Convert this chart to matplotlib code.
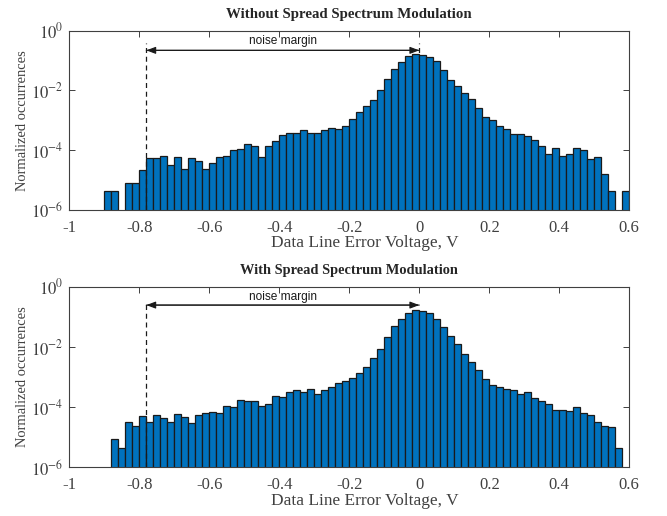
import numpy as np
import matplotlib
matplotlib.use("Agg")
import matplotlib.pyplot as plt

plt.rcParams["font.family"] = ["Liberation Serif", "DejaVu Serif"]
plt.rcParams["mathtext.fontset"] = "stix"

# Histogram bins: 0.02 V wide, from -1 V to 0.6 V
bin_width = 0.02
bin_left = -1.0
n_bins = 80

without_ssm = [
    0, 0, 0, 0, 0, 4.3e-6, 4.3e-6, 0, 7.9e-6, 7.9e-6,
    2.1e-5, 5.4e-5, 5.4e-5, 6.6e-5, 3.2e-5, 5.8e-5, 2.3e-5, 5.4e-5, 4.3e-5, 2.3e-5,
    3.6e-5, 5.8e-5, 6.6e-5, 1.0e-4, 1.1e-4, 1.6e-4, 1.4e-4, 5.8e-5, 1.4e-4, 2.1e-4,
    3.2e-4, 3.7e-4, 3.7e-4, 4.7e-4, 3.7e-4, 3.7e-4, 4.7e-4, 5.4e-4, 5.1e-4, 6.6e-4,
    1.1e-3, 1.9e-3, 3.0e-3, 4.7e-3, 1.05e-2, 2.45e-2, 5.1e-2, 8.9e-2, 0.141, 0.162,
    0.155, 0.132, 0.100, 0.047, 0.023, 0.0138, 0.0085, 0.0050, 0.0026, 0.00132,
    0.00102, 6.6e-4, 5.0e-4, 3.4e-4, 3.4e-4, 3.1e-4, 2.2e-4, 1.4e-4, 7.4e-5, 1.15e-4,
    6.5e-5, 7.4e-5, 1.15e-4, 1.0e-4, 5.0e-5, 6.0e-5, 1.6e-5, 4.1e-6, 0, 4.1e-6,
]

with_ssm = [
    0, 0, 0, 0, 0, 0, 8.5e-6, 4.3e-6, 3.3e-5, 2.4e-5,
    4.9e-5, 3.2e-5, 5.4e-5, 4.3e-5, 3.2e-5, 5.8e-5, 4.7e-5, 3.0e-5, 5.4e-5, 6.2e-5,
    6.8e-5, 6.2e-5, 1.1e-4, 1.0e-4, 1.7e-4, 1.55e-4, 1.55e-4, 1.1e-4, 1.26e-4, 2.4e-4,
    2.2e-4, 3.2e-4, 3.8e-4, 3.2e-4, 4.0e-4, 2.8e-4, 3.7e-4, 4.7e-4, 6.2e-4, 7.2e-4,
    9.5e-4, 1.32e-3, 2.1e-3, 4.3e-3, 8.7e-3, 2.1e-2, 4.8e-2, 8.7e-2, 0.135, 0.166,
    0.151, 0.132, 0.087, 0.045, 0.0234, 0.0126, 0.0059, 0.0032, 0.00174, 8.5e-4,
    5.5e-4, 4.8e-4, 4.0e-4, 3.6e-4, 2.75e-4, 3.1e-4, 1.95e-4, 1.6e-4, 1.23e-4, 8.1e-5,
    8.1e-5, 7.4e-5, 1.0e-4, 6.5e-5, 5.4e-5, 3.1e-5, 2.4e-5, 2.1e-5, 4.3e-6, 0,
]

titles = ["Without Spread Spectrum Modulation", "With Spread Spectrum Modulation"]
x_ticks = [-1, -0.8, -0.6, -0.4, -0.2, 0, 0.2, 0.4, 0.6]
x_tick_labels = ["-1", "-0.8", "-0.6", "-0.4", "-0.2", "0", "0.2", "0.4", "0.6"]
y_ticks = [1e-6, 1e-4, 1e-2, 1e0]
y_tick_labels = [r"$10^{-6}$", r"$10^{-4}$", r"$10^{-2}$", r"$10^{0}$"]

margin_left = -0.78
margin_right = 0.0

bar_color = "#0072BD"
axis_color = "#404040"

fig = plt.figure(figsize=(6.67, 5.16), dpi=100)
ax_rects = [
    [69.3 / 667, 1 - 210.0 / 516, 560 / 667, 179.3 / 516],
    [69.3 / 667, 1 - 467.3 / 516, 560 / 667, 180.6 / 516],
]
# annotation heights (arrow, text baseline, top of dashed lines) for each panel
arrow_y = [0.22, 0.245]
text_y = [0.36, 0.36]
dash_top = [0.40, 0.32]
right_dash = [True, False]

edges = bin_left + bin_width * np.arange(n_bins)


def fit_size(artist, target, use_height=False):
    """Rescale an artist's font so its rendered extent reaches target pixels."""
    renderer = fig.canvas.get_renderer()
    for _ in range(3):
        bb = artist.get_window_extent(renderer)
        cur = bb.height if use_height else bb.width
        if cur > 0:
            artist.set_fontsize(artist.get_fontsize() * target / cur)


arrow_kw = dict(arrowstyle="-|>,head_length=0.8,head_width=0.3",
                color="#1a1a1a", lw=0.8, mutation_scale=7, shrinkA=0, shrinkB=0)

axes = []
title_artists = []
annot = []
for k, (rect, data) in enumerate(zip(ax_rects, [without_ssm, with_ssm])):
    ax = fig.add_axes(rect)
    axes.append(ax)
    ax.set_yscale("log")
    vals = np.array(data, dtype=float)
    mask = vals > 0
    ax.bar(edges[mask], vals[mask], width=bin_width, align="edge", bottom=1e-7,
           color=bar_color, edgecolor="#1a1a1a", linewidth=0.9, zorder=2)
    ax.set_xlim(-1, 0.6)
    ax.set_ylim(1e-6, 1e0)
    ax.set_xticks(x_ticks)
    ax.set_xticklabels(x_tick_labels)
    ax.set_yticks(y_ticks)
    ax.set_yticklabels(y_tick_labels)
    ax.yaxis.set_minor_locator(matplotlib.ticker.NullLocator())
    ax.tick_params(direction="in", top=True, right=True, length=4, width=0.7,
                   colors=axis_color, labelsize=12)
    ax.tick_params(axis="x", pad=7)
    ax.tick_params(axis="y", pad=4)
    for s in ax.spines.values():
        s.set_color(axis_color)
        s.set_linewidth(0.8)

    t = ax.set_title(titles[k], fontsize=10.5, fontweight="bold", color="#262626", pad=9)
    title_artists.append(t)
    ax.set_xlabel("Data Line Error Voltage, V", fontsize=11, color=axis_color)
    ax.xaxis.set_label_coords(0.528, -0.14)
    ax.set_ylabel("Normalized occurrences", fontsize=11, color=axis_color)
    ax.yaxis.set_label_coords(-0.072, 0.5)

    # noise margin markers
    ax.plot([margin_left, margin_left], [1e-6, dash_top[k]], color="#1a1a1a",
            linestyle=(0, (4, 3)), linewidth=0.9, zorder=3)
    if right_dash[k]:
        ax.plot([margin_right, margin_right], [1e-6, dash_top[k]], color="#1a1a1a",
                linestyle=(0, (4, 3)), linewidth=0.9, zorder=1)
    ax.annotate("", xy=(margin_left, arrow_y[k]), xytext=(margin_right, arrow_y[k]),
                arrowprops=arrow_kw)
    ax.annotate("", xy=(margin_right, arrow_y[k]), xytext=(margin_left, arrow_y[k]),
                arrowprops=arrow_kw)
    nm = ax.text((margin_left + margin_right) / 2, text_y[k], "noise margin",
                 ha="center", va="baseline", fontsize=8, color="#1a1a1a",
                 family=["Liberation Sans", "DejaVu Sans"])
    annot.append(nm)

fig.canvas.draw()
title_widths = [245, 218]
for k, ax in enumerate(axes):
    fit_size(title_artists[k], title_widths[k])
    fit_size(ax.xaxis.label, 186)
    fit_size(ax.yaxis.label, 140, use_height=True)
    fit_size(annot[k], 68)

fig.savefig("out.png", dpi=100)
